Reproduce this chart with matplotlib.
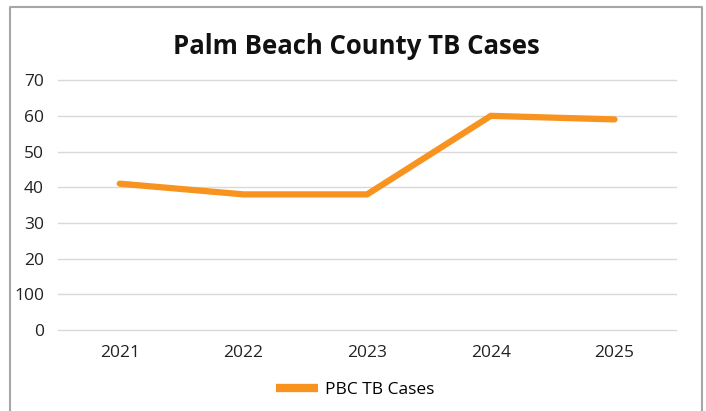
import matplotlib
matplotlib.use("Agg")
import matplotlib.pyplot as plt
from matplotlib.lines import Line2D

# data
years = ["2021", "2022", "2023", "2024", "2025"]
cases = [41, 38, 38, 60, 59]
y_ticks = [0, 10, 20, 30, 40, 50, 60, 70]
y_labels = ["0", "100", "20", "30", "40", "50", "60", "70"]  # as printed on the original

line_color = "#F7931E"
grid_color = "#D9D9D9"
plt.rcParams["font.family"] = ["Open Sans", "DejaVu Sans"]

fig = plt.figure(figsize=(7.06, 4.11), dpi=100)
ax = fig.add_axes([0.082, 0.197, 0.876, 0.608])

x = range(len(years))
ax.plot(x, cases, color=line_color, linewidth=4.5, solid_capstyle="round",
        solid_joinstyle="miter", label="PBC TB Cases", zorder=3)

ax.set_xlim(-0.5, len(years) - 0.5)
ax.set_ylim(0, 70)
ax.set_xticks(list(x))
ax.set_xticklabels(years)
ax.set_yticks(y_ticks)
ax.set_yticklabels(y_labels)
ax.tick_params(length=0, labelsize=12.5, colors="#222222")
ax.tick_params(axis="x", pad=11)
ax.tick_params(axis="y", pad=10)
ax.grid(axis="y", color=grid_color, linewidth=1)
for gl in ax.yaxis.get_gridlines():
    gl.set_clip_on(False)
ax.set_axisbelow(True)
for s in ax.spines.values():
    s.set_visible(False)

fig.text(0.505, 0.888, "Palm Beach County TB Cases", ha="center", va="center",
         fontsize=18.5, fontweight="bold", color="#111111")

handle = Line2D([], [], color=line_color, linewidth=6, solid_capstyle="butt")
fig.legend([handle], ["PBC TB Cases"], loc="center", bbox_to_anchor=(0.503, 0.052),
           frameon=False, fontsize=12.5, handlelength=2.4, handletextpad=0.4)

# outer chart border (bottom edge is cropped in the original)
border = Line2D([0.0148, 0.0148, 0.9943, 0.9943], [0.0, 0.982, 0.982, 0.0],
                transform=fig.transFigure, color="#A6A6A6", linewidth=1.5)
fig.add_artist(border)

fig.savefig("out.png", dpi=100)
